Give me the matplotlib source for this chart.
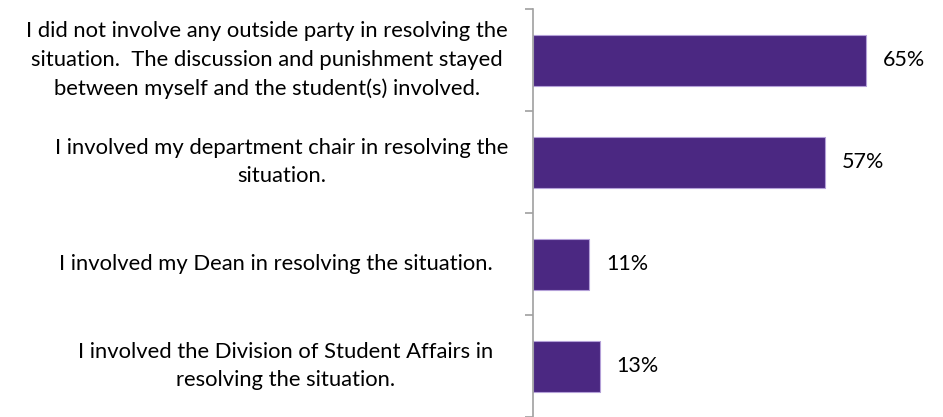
import matplotlib.pyplot as plt
import matplotlib.transforms as mtransforms
import numpy as np

plt.rcParams['font.family'] = ['Lato', 'DejaVu Sans']

categories = [
    "I did not involve any outside party in resolving the\nsituation.  The discussion and punishment stayed\nbetween myself and the student(s) involved.",
    "I involved my department chair in resolving the\nsituation.",
    "I involved my Dean in resolving the situation.",
    "I involved the Division of Student Affairs in\nresolving the situation.",
]
values = [65, 57, 11, 13]

fig = plt.figure(figsize=(9.43, 4.17), dpi=100)
ax = fig.add_axes([533 / 943, 0, 1 - 533 / 943, 1 - 9 / 417])

y = np.arange(len(values))
ax.barh(y, values, height=0.5, color="#4B2882", edgecolor="#B4A0D8", linewidth=0.8)
ax.set_ylim(len(values) - 0.5, -0.5)
ax.set_xlim(0, 80)

for yi, v in zip(y, values):
    ax.annotate(f"{v}%", (v, yi), xytext=(12, 0), textcoords="offset points",
                va="center", ha="left", fontsize=15.5, color="black")

# category labels (Excel wraps them in boxes, so right edges differ a bit)
label_gap = [25, 25, 40, 40]
for yi, lab, gap in zip(y, categories, label_gap):
    tr = mtransforms.offset_copy(ax.get_yaxis_transform(), fig=fig,
                                 x=-gap, y=0, units="dots")
    ax.text(0, yi, lab, transform=tr, ha="right", va="center",
            multialignment="center", fontsize=15.8, linespacing=1.55)

ax.set_yticks([])
ax.set_yticks(np.arange(-0.5, len(values)), minor=True)
ax.tick_params(axis="y", which="minor", length=6, color="#A0A0A0", width=1.2)
ax.set_xticks([])
for s in ["top", "right", "bottom"]:
    ax.spines[s].set_visible(False)
ax.spines["left"].set_color("#A0A0A0")
ax.spines["left"].set_linewidth(1.2)

fig.savefig("out.png", dpi=100)
